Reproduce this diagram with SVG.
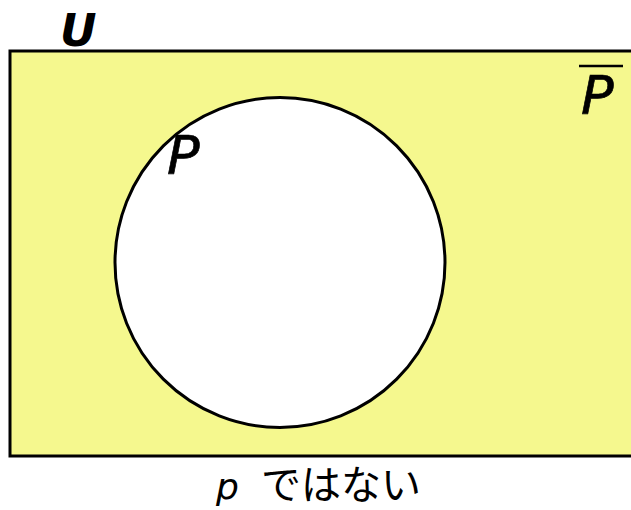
<svg xmlns="http://www.w3.org/2000/svg" width="631" height="510" viewBox="0 0 631 510">
<style>
.lbl{font-family:"DejaVu Sans","Noto Sans",sans-serif;font-style:oblique;fill:#000}
.thick{stroke:#000;stroke-width:0.7}
.jp{font-family:"Noto Sans CJK JP",sans-serif;fill:#000}
</style>
<rect width="631" height="510" fill="#fff"/>
<g id="universe">
<rect x="10" y="51" width="640" height="405" fill="#f5f88e" stroke="#000" stroke-width="3"/>
<text class="lbl" x="60" y="46" font-size="45" font-weight="bold">U</text>
</g>
<g id="complement">
<text class="lbl thick" x="581" y="114" font-size="54">P</text>
<line x1="579" y1="66" x2="623" y2="66" stroke="#000" stroke-width="2.5"/>
</g>
<g id="setP">
<circle cx="280" cy="262.5" r="165" fill="#fff" stroke="#000" stroke-width="3"/>
<text class="lbl thick" x="167" y="174" font-size="54">P</text>
</g>
<g id="caption">
<text x="216" y="499" font-size="36"><tspan class="lbl">p</tspan><tspan class="jp" x="261" font-size="40">ではない</tspan></text>
</g>
<g id="connectors"/>
</svg>
